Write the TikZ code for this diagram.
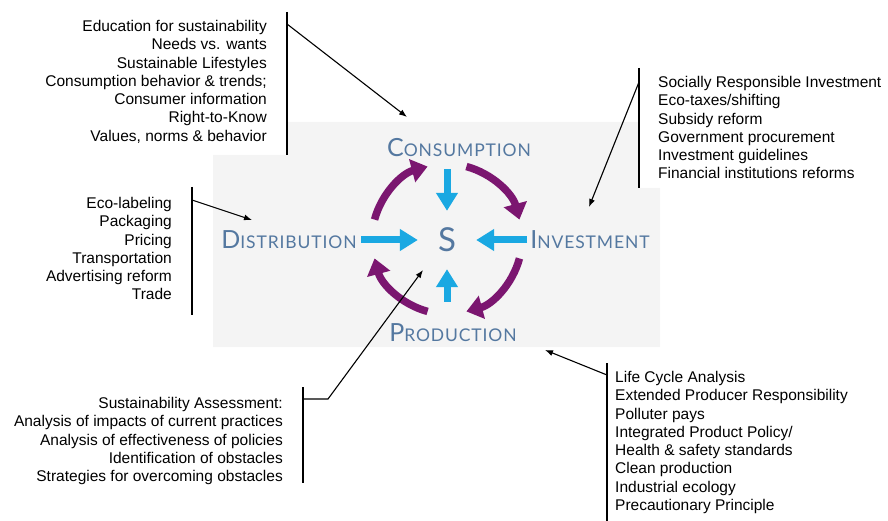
\documentclass[tikz,border=0pt]{standalone}
\usepackage{fontspec}
\setmainfont{Liberation Sans}
\newfontfamily\capfont[LetterSpace=5]{Lato}
\usetikzlibrary{arrows.meta}
\definecolor{violet}{RGB}{123,22,112}
\definecolor{cyan}{RGB}{26,168,226}
\definecolor{ardoise}{RGB}{84,120,160}
\definecolor{fond}{RGB}{244,244,244}
\newcommand{\petitescap}[2]{{\fontsize{25}{25}\selectfont #1}{\fontsize{17.5}{17.5}\selectfont #2}}

\begin{document}
\begin{tikzpicture}[x=1pt, y=-1pt]
  \tikzstyle{liste}=[inner sep=0, font=\fontsize{15.5}{18.3}\selectfont];
  \tikzstyle{secteur}=[inner sep=0, text=ardoise, font=\capfont];
  \tikzstyle{crochet}=[line width=2.2pt];
  \tikzstyle{renvoi}=[line width=1.1pt, -{Latex[length=8pt, width=6pt]}];
  \tikzstyle{boucle}=[line width=7.5pt, violet, -{Triangle[length=16pt, width=23pt]}];
  \tikzstyle{flux}=[line width=7pt, cyan, -{Triangle[length=18pt, width=21pt]}];

  \useasboundingbox (0,0) rectangle (888,521);
  \fill[fond] (213,155) -- (287,155) -- (287,122) -- (639,122) -- (639,188)
    -- (660,188) -- (660,347) -- (213,347) -- cycle;

  % le cycle
  \node[secteur] (conso) at (459,148) {\petitescap{C}{ONSUMPTION}};
  \node[secteur] (distrib) at (289,240) {\petitescap{D}{ISTRIBUTION}};
  \node[secteur] (invest) at (590,240) {\petitescap{I}{NVESTMENT}};
  \node[secteur] (prod) at (453,333) {\petitescap{P}{RODUCTION}};
  \node[secteur, circle, minimum size=58pt, font=\capfont\fontsize{33}{33}\selectfont] (S) at (447,240) {S};
  \coordinate (centre) at (447,239);

  \draw[flux, shorten <=12pt] (S.north |- conso.south) -- (S.north);
  \draw[flux, shorten <=22pt] (S.south |- prod.north) -- (S.south);
  \draw[flux, shorten <=4pt] (distrib.east |- S) -- (S.west);
  \draw[flux, shorten <=3pt] (invest.west |- S) -- (S.east);

  \draw[boucle] (centre) ++(-165:75) arc[start angle=-165, end angle=-105, radius=75];
  \draw[boucle] (centre) ++(-75:75) arc[start angle=-75, end angle=-15, radius=75];
  \draw[boucle] (centre) ++(15:75) arc[start angle=15, end angle=75, radius=75];
  \draw[boucle] (centre) ++(105:75) arc[start angle=105, end angle=165, radius=75];

  % les listes
  \node[liste, anchor=north east, align=right] (lconso) at (267,20) {Education for sustainability\\
    Needs vs. wants\\Sustainable Lifestyles\\Consumption behavior \& trends;\\
    Consumer information\\Right-to-Know\\Values, norms \& behavior};
  \node[liste, anchor=north west, align=left] (linvest) at (658,76) {Socially Responsible Investment\\
    Eco-taxes/shifting\\Subsidy reform\\Government procurement\\
    Investment guidelines\\Financial institutions reforms};
  \node[liste, anchor=north east, align=right] (ldistrib) at (172,197) {Eco-labeling\\Packaging\\
    Pricing\\Transportation\\Advertising reform\\Trade};
  \node[liste, anchor=north east, align=right] (leval) at (283,397) {Sustainability Assessment:\\
    Analysis of impacts of current practices\\Analysis of effectiveness of policies\\
    Identification of obstacles\\Strategies for overcoming obstacles};
  \node[liste, anchor=north west, align=left] (lprod) at (615,371) {Life Cycle Analysis\\
    Extended Producer Responsibility\\Polluter pays\\Integrated Product Policy/\\
    Health \& safety standards\\Clean production\\Industrial ecology\\Precautionary Principle};

  % crochets et renvois
  \coordinate (c1) at (287,24);   \coordinate (v1) at (407,117);
  \coordinate (c2) at (639,82);   \coordinate (v2) at (589,207);
  \coordinate (c3) at (192,200);  \coordinate (v3) at (252,220);
  \coordinate (c4) at (303,399);  \coordinate (v4) at (423,270);
  \coordinate (c5) at (607,375);  \coordinate (v5) at (545,350);

  \draw[crochet] (287,12) -- (287,155);
  \draw[crochet] (639,68) -- (639,188);
  \draw[crochet] (192,187) -- (192,315);
  \draw[crochet] (303,387) -- (303,483);
  \draw[crochet] (607,363) -- (607,521);

  \draw[renvoi] (c1) -- (v1);
  \draw[renvoi] (c2) -- (v2);
  \draw[renvoi] (c3) -- (v3);
  \draw[renvoi] (c4) -- ++(25,0) -- (v4);
  \draw[renvoi] (c5) -- (v5);
\end{tikzpicture}
\end{document}
